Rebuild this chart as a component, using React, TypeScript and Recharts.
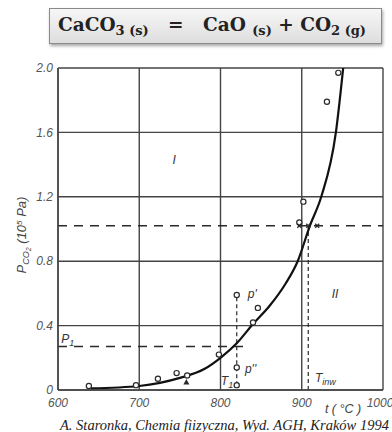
import React from 'react';
import { ComposedChart, Line, Scatter, XAxis, YAxis, CartesianGrid, ReferenceLine } from 'recharts';

// equilibrium curve p(CO2) vs t
const curveT = [640, 700, 750, 780, 800, 820, 840, 860, 880, 895, 910, 924, 942, 951];
const curveP = [0.01, 0.025, 0.075, 0.13, 0.2, 0.29, 0.41, 0.52, 0.66, 0.8, 1.02, 1.2, 1.6, 2.0];

// measured points
const circleT = [638, 696, 723, 746, 759, 798, 820, 820, 820, 840, 846, 897, 902, 931, 945];
const circleP = [0.025, 0.03, 0.07, 0.105, 0.09, 0.22, 0.59, 0.14, 0.03, 0.42, 0.51, 1.04, 1.17, 1.79, 1.97];
const triangleT = [758];
const triangleP = [0.05];
const crossT = [897, 908, 919];
const crossP = [1.02, 1.02, 1.02];

const xTicks = [600, 700, 800, 900, 1000];
const yTicks = [0, 0.4, 0.8, 1.2, 1.6, 2.0];

const p1 = 0.27;
const pInw = 1.02;
const t1 = 820;
const tInw = 908;
const p1End = 835;
const pPrime = 0.59;
const pLow = 0.03;

const labelText = ['I', 'II', 'P1', "p'", "p''", 'T1', 'Tinw'];
const labelT = [743, 941, 612, 839, 837, 808, 929];
const labelP = [1.43, 0.6, 0.32, 0.6, 0.13, 0.056, 0.075];

const curveData = curveT.map((t, i) => ({ t, p: curveP[i] }));
const circleData = circleT.map((t, i) => ({ t, p: circleP[i] }));
const triangleData = triangleT.map((t, i) => ({ t, p: triangleP[i] }));
const crossData = crossT.map((t, i) => ({ t, p: crossP[i] }));
const labelData = labelText.map((text, i) => ({ t: labelT[i], p: labelP[i], text }));

const ink = '#2a2a2a';
const gridInk = '#444';
const sans = 'Arial, "Liberation Sans", sans-serif';

const Circle = (props: any) => (
    <circle cx={props.cx} cy={props.cy} r={2.6} fill="#fff" stroke={ink} strokeWidth={1.2} />
);

const Triangle = (props: any) => {
    const { cx, cy } = props;
    return <path d={`M${cx},${cy - 3} L${cx + 3},${cy + 2.5} L${cx - 3},${cy + 2.5} Z`} fill={ink} />;
};

const Cross = (props: any) => {
    const { cx, cy } = props;
    return (
        <path d={`M${cx - 2},${cy - 2} L${cx + 2},${cy + 2} M${cx + 2},${cy - 2} L${cx - 2},${cy + 2}`}
            stroke={ink} strokeWidth={1.3} />
    );
};

const TextMark = (props: any) => {
    const { cx, cy, payload } = props;
    const txt: string = payload.text;
    const style = { fontFamily: sans, fontStyle: 'italic' as const, fontSize: 12, fill: '#333' };
    if (txt === 'P1' || txt === 'T1') {
        return (
            <text x={cx} y={cy} dy="0.35em" textAnchor="middle" style={style}>
                {txt[0]}<tspan fontSize={9} dy={3}>1</tspan>
            </text>
        );
    }
    if (txt === 'Tinw') {
        return (
            <text x={cx} y={cy} dy="0.35em" textAnchor="middle" style={style}>
                T<tspan fontSize={9} dy={3}>inw</tspan>
            </text>
        );
    }
    return (
        <text x={cx} y={cy} dy="0.35em" textAnchor="middle" style={style}>{txt}</text>
    );
};

const YLabel = (props: any) => {
    const vb = props.viewBox;
    const x = vb.x + 3;
    const y = vb.y + vb.height / 2 + 6;
    return (
        <text x={x} y={y} transform={`rotate(-90 ${x} ${y})`} textAnchor="middle" dy="0.35em"
            style={{ fontFamily: sans, fontStyle: 'italic', fontSize: 13, fill: '#444' }}>
            P<tspan fontSize={9} dy={3}>CO</tspan><tspan fontSize={7} dy={2}>2</tspan>
            <tspan dy={-5}> (10</tspan><tspan fontSize={8} dy={-4}>5</tspan><tspan dy={4}> Pa)</tspan>
        </text>
    );
};

const XLabel = (props: any) => {
    const vb = props.viewBox;
    return (
        <text x={vb.x + vb.width - 40} y={vb.y + 23} textAnchor="middle"
            style={{ fontFamily: sans, fontStyle: 'italic', fontSize: 12.5, fill: '#444' }}>
            t ( °C )
        </text>
    );
};

const tickStyle = { fontFamily: sans, fontStyle: 'italic', fontSize: 12, fill: '#555' };
const sub = { fontSize: 13, verticalAlign: -4 };

export default function App() {
    return (
        <div style={{ position: 'absolute', left: 0, top: 0, width: 392, height: 432, background: '#fff', overflow: 'hidden' }}>
            <div style={{
                position: 'absolute', left: 49, top: 8, width: 333, height: 36, boxSizing: 'border-box',
                border: '1px solid #8a8a8a', background: 'linear-gradient(#f6f6f6, #dedede)',
                boxShadow: '1px 2px 3px rgba(0,0,0,0.35)',
                fontFamily: '"DejaVu Serif", "Liberation Serif", serif', fontWeight: 'bold', fontSize: 18.5,
                color: '#222', whiteSpace: 'pre', paddingLeft: 8, lineHeight: '32px',
            }}>
                CaCO<sub style={sub}>3 (s)</sub>{'   =   '}CaO <sub style={sub}>(s)</sub>{' + '}CO<sub style={sub}>2 (g)</sub>
            </div>
            <ComposedChart width={392} height={432} margin={{ top: 68, right: 9, bottom: 22, left: 18 }}>
                <CartesianGrid stroke={gridInk} strokeWidth={1.4} />
                <XAxis type="number" dataKey="t" domain={[600, 1000]} ticks={xTicks} allowDataOverflow
                    height={20} tickSize={0} tickMargin={8} stroke={gridInk} strokeWidth={1.4}
                    tick={tickStyle} label={{ content: XLabel }} />
                <YAxis type="number" dataKey="p" domain={[0, 2]} ticks={yTicks} allowDataOverflow
                    width={40} tickSize={0} tickMargin={5} stroke={gridInk} strokeWidth={1.4}
                    tick={tickStyle} tickFormatter={(v: number) => (v === 0 ? '0' : v.toFixed(1))}
                    label={{ content: YLabel }} />
                <ReferenceLine segment={[{ x: 600, y: pInw }, { x: 1000, y: pInw }]} stroke={ink}
                    strokeWidth={1.5} strokeDasharray="9 7" />
                <ReferenceLine segment={[{ x: 600, y: p1 }, { x: p1End, y: p1 }]} stroke={ink}
                    strokeWidth={1.5} strokeDasharray="9 7" />
                <ReferenceLine segment={[{ x: t1, y: pLow }, { x: t1, y: pPrime }]} stroke={ink}
                    strokeWidth={1.2} strokeDasharray="4 3" />
                <ReferenceLine segment={[{ x: tInw, y: 0 }, { x: tInw, y: pInw }]} stroke={ink}
                    strokeWidth={1.2} strokeDasharray="4 3" />
                <Line data={curveData} dataKey="p" type="monotone" stroke="#111" strokeWidth={2.2}
                    dot={false} isAnimationActive={false} />
                <Scatter data={circleData} dataKey="p" shape={Circle} isAnimationActive={false} />
                <Scatter data={triangleData} dataKey="p" shape={Triangle} isAnimationActive={false} />
                <Scatter data={crossData} dataKey="p" shape={Cross} isAnimationActive={false} />
                <Scatter data={labelData} dataKey="p" shape={TextMark} isAnimationActive={false} />
            </ComposedChart>
            <div style={{
                position: 'absolute', left: 60, top: 417, whiteSpace: 'nowrap',
                fontFamily: '"Liberation Serif", "Times New Roman", serif', fontStyle: 'italic', fontSize: 14.5, color: '#222',
            }}>
                A. Staronka, Chemia fiizyczna, Wyd. AGH, Kraków 1994
            </div>
        </div>
    );
}
